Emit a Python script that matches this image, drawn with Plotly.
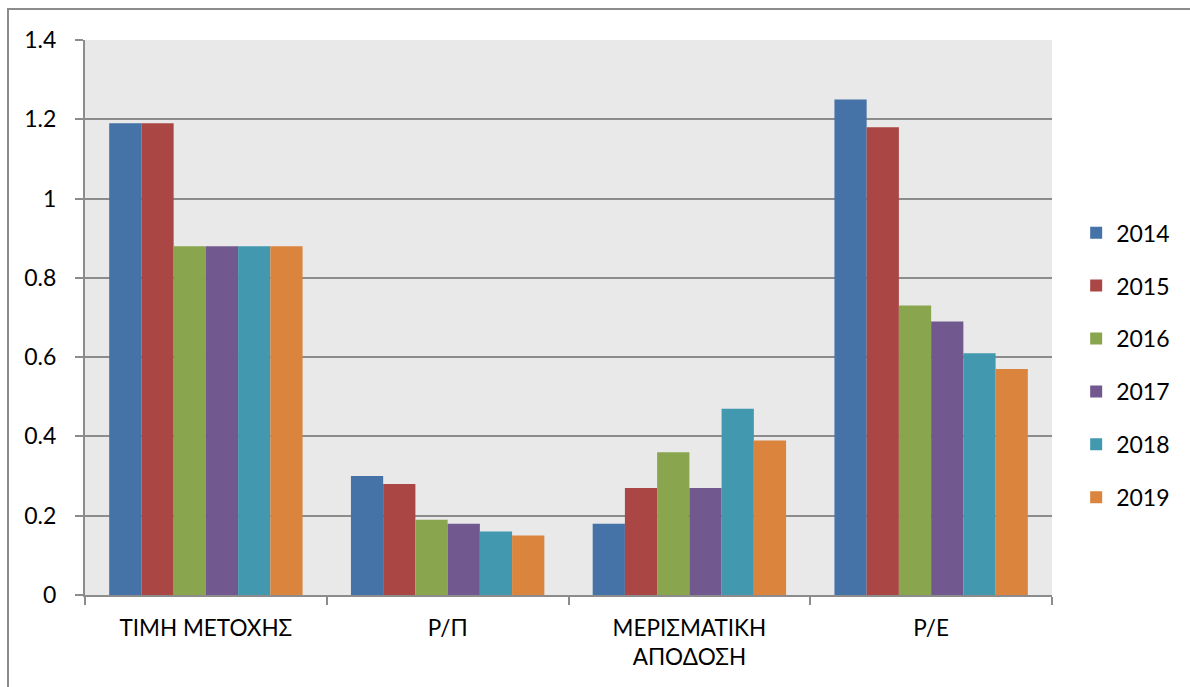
import plotly.graph_objects as go

# Financial indicators per year
categories = ["ΤΙΜΗ ΜΕΤΟΧΗΣ", "Ρ/Π", "ΜΕΡΙΣΜΑΤΙΚΗ<br>ΑΠΟΔΟΣΗ", "Ρ/Ε"]
years = ["2014", "2015", "2016", "2017", "2018", "2019"]

values_2014 = [1.19, 0.30, 0.18, 1.25]
values_2015 = [1.19, 0.28, 0.27, 1.18]
values_2016 = [0.88, 0.19, 0.36, 0.73]
values_2017 = [0.88, 0.18, 0.27, 0.69]
values_2018 = [0.88, 0.16, 0.47, 0.61]
values_2019 = [0.88, 0.15, 0.39, 0.57]

series = [values_2014, values_2015, values_2016, values_2017, values_2018, values_2019]
colors = ["#4572A7", "#AA4643", "#89A54E", "#71588F", "#4198AF", "#DB843D"]

FONT = "Lato, 'Open Sans', sans-serif"

fig = go.Figure()
for year, vals, col in zip(years, series, colors):
    fig.add_trace(go.Bar(
        x=categories, y=vals, name=year,
        marker=dict(color=col, line=dict(width=0)),
        legendgroup=year,
    ))

fig.update_layout(
    width=1190, height=687,
    margin=dict(l=85, r=138, t=40, b=92),
    paper_bgcolor="white",
    plot_bgcolor="#e9e9e9",
    barmode="group",
    bargap=0.2,
    bargroupgap=0,
    font=dict(family=FONT, size=23, color="black"),
    showlegend=True,
    legend=dict(
        x=1.025, xanchor="left", y=0.414, yanchor="middle",
        font=dict(family=FONT, size=23, color="black"),
        tracegroupgap=20,
        itemwidth=30,
        bgcolor="rgba(0,0,0,0)",
    ),
    xaxis=dict(
        showline=True, linecolor="#8c8c8c", linewidth=2,
        ticks="outside", tickson="boundaries", ticklen=8, tickcolor="#8c8c8c", tickwidth=2,
        showgrid=False,
        tickfont=dict(family=FONT, size=22.5),
        ticklabelstandoff=12,
    ),
    yaxis=dict(
        range=[0, 1.4], dtick=0.2, tick0=0,
        showline=True, linecolor="#8c8c8c", linewidth=2,
        showgrid=True, gridcolor="#8c8c8c", gridwidth=2,
        zeroline=False,
        ticks="outside", ticklen=8, tickcolor="#8c8c8c", tickwidth=2,
        tickformat="~g",
        tickfont=dict(family=FONT, size=23),
        ticklabelstandoff=14,
    ),
    shapes=[
        # outer chart frame
        dict(type="rect", xref="paper", yref="paper",
             x0=(8 - 85) / 967, x1=(1200 - 85) / 967,
             y0=(595 - 700) / 555, y1=(595 - 9) / 555,
             line=dict(color="#8c8c8c", width=2), layer="below"),
    ],
)

fig.write_html("out.html")
